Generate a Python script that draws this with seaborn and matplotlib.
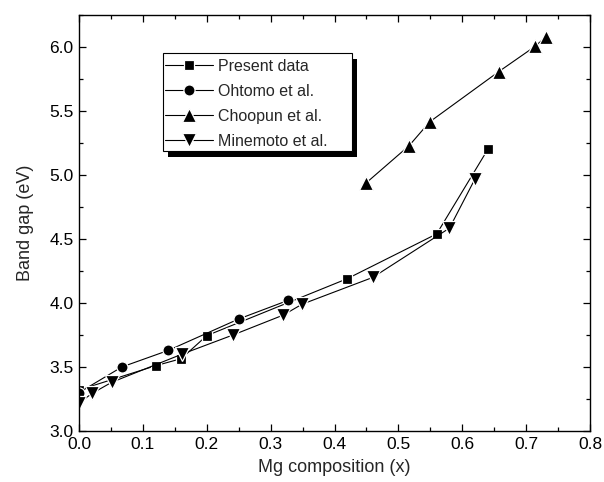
import matplotlib
matplotlib.use("Agg")
import matplotlib.pyplot as plt
from matplotlib.patches import Rectangle
from matplotlib.ticker import MultipleLocator, FormatStrFormatter
import pandas as pd
import seaborn as sns

# Band gap of MgZnO films versus Mg content
present_x = [0.0, 0.12, 0.16, 0.20, 0.42, 0.56, 0.64]
present_y = [3.32, 3.51, 3.565, 3.745, 4.19, 4.54, 5.20]

ohtomo_x = [0.0, 0.067, 0.14, 0.25, 0.327]
ohtomo_y = [3.30, 3.50, 3.63, 3.875, 4.02]

choopun_x = [0.45, 0.517, 0.549, 0.657, 0.714, 0.731]
choopun_y = [4.94, 5.23, 5.415, 5.807, 6.005, 6.08]

minemoto_x = [0.0, 0.021, 0.051, 0.161, 0.241, 0.32, 0.349, 0.46, 0.58, 0.62]
minemoto_y = [3.22, 3.295, 3.38, 3.60, 3.75, 3.906, 3.99, 4.20, 4.585, 4.97]

series_names = ["Present data", "Ohtomo et al.", "Choopun et al.", "Minemoto et al."]
series_markers = ["s", "o", "^", "v"]
series_sizes = [7, 8, 9.5, 9.5]

frames = []
for name, xs, ys in zip(series_names,
                        [present_x, ohtomo_x, choopun_x, minemoto_x],
                        [present_y, ohtomo_y, choopun_y, minemoto_y]):
    frames.append(pd.DataFrame({"x": xs, "y": ys, "source": name}))
df = pd.concat(frames, ignore_index=True)

sns.set_style("ticks")
plt.rcParams["font.family"] = ["Liberation Sans", "DejaVu Sans"]

W, H = 604, 482
fig = plt.figure(figsize=(W / 100, H / 100), dpi=100)
ax = fig.add_axes([79 / W, 1 - 431 / H, (590 - 79) / W, (431 - 15) / H])

for name, mk, ms in zip(series_names, series_markers, series_sizes):
    sub = df[df["source"] == name]
    sns.lineplot(data=sub, x="x", y="y", ax=ax, sort=False, estimator=None,
                 color="black", linewidth=0.8, marker=mk, markersize=ms,
                 markeredgecolor="white", markeredgewidth=0.9, label=name)

ax.set_xlim(0.0, 0.8)
ax.set_ylim(3.0, 6.25)
ax.xaxis.set_major_locator(MultipleLocator(0.1))
ax.xaxis.set_minor_locator(MultipleLocator(0.05))
ax.yaxis.set_major_locator(MultipleLocator(0.5))
ax.yaxis.set_minor_locator(MultipleLocator(0.25))
ax.xaxis.set_major_formatter(FormatStrFormatter("%.1f"))
ax.yaxis.set_major_formatter(FormatStrFormatter("%.1f"))
ax.tick_params(which="both", top=True, right=True, direction="in",
               labelsize=12.5, width=0.9, colors="black", pad=4)
ax.tick_params(which="major", length=5)
ax.tick_params(which="minor", length=3)
for s in ax.spines.values():
    s.set_linewidth(1.0)
    s.set_color("black")

ax.set_xlabel("Mg composition (x)", fontsize=13, labelpad=5)
ax.set_ylabel("Band gap (eV)", fontsize=13, labelpad=11)

# legend entries without their own frame; box and drop shadow drawn below
leg = ax.legend(loc="upper left", bbox_to_anchor=(165 / W, 1 - 59 / H),
                bbox_transform=fig.transFigure, frameon=False,
                fontsize=11.5, handlelength=3.0, handletextpad=0.3,
                borderpad=0.0, labelspacing=0.62, borderaxespad=0.0)
leg.set_zorder(7)

def fig_px_rect(x0, y0, x1, y1, **kw):
    return Rectangle((x0 / W, 1 - y1 / H), (x1 - x0) / W, (y1 - y0) / H,
                     transform=fig.transFigure, clip_on=False, **kw)

ax.add_patch(fig_px_rect(168, 59, 357, 157, facecolor="black",
                         edgecolor="none", zorder=5))
ax.add_patch(fig_px_rect(163, 53, 352, 151, facecolor="white",
                         edgecolor="black", linewidth=0.8, zorder=6))

fig.savefig("out.png", dpi=100)
